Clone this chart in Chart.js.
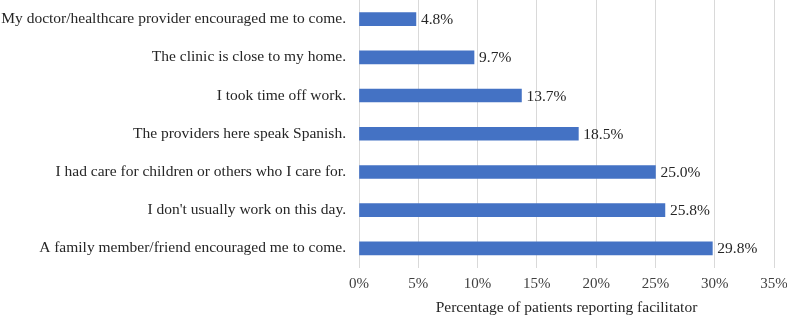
<!DOCTYPE html>
<html>
<head>
<meta charset="utf-8">
<script src="https://cdn.jsdelivr.net/npm/chart.js"></script>
<style>
  html, body { margin: 0; padding: 0; background: #fff; }
  #wrap { width: 787px; height: 319px; }
</style>
</head>
<body>
<div id="wrap"><canvas id="chart"></canvas></div>
<script>
// Chart data
const categories = [
    'My doctor/healthcare provider encouraged me to come.',
    'The clinic is close to my home.',
    'I took time off work.',
    'The providers here speak Spanish.',
    'I had care for children or others who I care for.',
    "I don't usually work on this day.",
    'A family member/friend encouraged me to come.'
];
const percentages = [4.8, 9.7, 13.7, 18.5, 25.0, 25.8, 29.8];
const axisTitle = 'Percentage of patients reporting facilitator';

const serif = '"Liberation Serif", "Times New Roman", serif';

// Draw value labels at end of bars
const valueLabels = {
    id: 'valueLabels',
    afterDatasetsDraw(chart) {
        const ctx = chart.ctx;
        const meta = chart.getDatasetMeta(0);
        ctx.save();
        ctx.font = '15.5px ' + serif;
        ctx.fillStyle = '#262626';
        ctx.textAlign = 'left';
        ctx.textBaseline = 'middle';
        meta.data.forEach((bar, i) => {
            ctx.fillText(percentages[i].toFixed(1) + '%', bar.x + 5, bar.y + 1);
        });
        ctx.restore();
    }
};

new Chart(document.getElementById('chart'), {
    type: 'bar',
    data: {
        labels: categories,
        datasets: [{
            data: percentages,
            backgroundColor: '#4472C4',
            barThickness: 13
        }]
    },
    options: {
        indexAxis: 'y',
        responsive: true,
        maintainAspectRatio: false,
        animation: false,
        layout: { padding: { top: 0, right: 0, bottom: 3, left: 0 } },
        plugins: {
            legend: { display: false },
            tooltip: { enabled: false }
        },
        scales: {
            x: {
                min: 0,
                max: 35,
                afterFit(scale) { scale.paddingRight = 13; },
                ticks: {
                    stepSize: 5,
                    callback: v => v + '%',
                    color: '#404040',
                    font: { family: serif, size: 15, lineHeight: 1 },
                    padding: 9
                },
                grid: { color: '#d9d9d9', drawTicks: false },
                border: { display: false },
                title: {
                    display: true,
                    text: axisTitle,
                    color: '#262626',
                    font: { family: serif, size: 15.5, lineHeight: 1 },
                    padding: { top: 0, bottom: 0 }
                }
            },
            y: {
                afterFit(scale) {
                    scale.width = 359;
                    scale.paddingTop = 0;
                    scale.paddingBottom = 0;
                },
                ticks: {
                    color: '#262626',
                    font: { family: serif, size: 15.5 },
                    padding: 13
                },
                grid: { display: false, drawTicks: false },
                border: { display: false }
            }
        }
    },
    plugins: [valueLabels]
});
</script>
</body>
</html>
